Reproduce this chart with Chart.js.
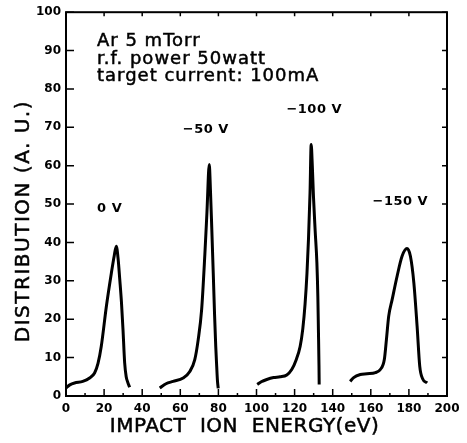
<!DOCTYPE html>
<html lang="en">
<head>
<meta charset="UTF-8">
<title>Impact ion energy distribution</title>
<script src="https://cdn.jsdelivr.net/npm/chart.js@4"></script>
<style>
  html, body { margin: 0; padding: 0; background: #fff; }
</style>
</head>
<body>
<canvas id="myChart" width="467" height="443"></canvas>
<script>
// curves, one per target bias
const energy0V = [0, 2, 4.5, 8.8, 12.4, 15, 16.8, 18.5, 21.2, 23.8, 25.3, 26.4, 27.4, 28.2, 29.1, 29.9, 30.8, 31.6, 32.4, 33.4];
const dist0V   = [2.1, 2.9, 3.4, 3.8, 4.7, 6, 8.5, 12.9, 23.4, 32, 36.5, 39, 35.5, 30.5, 24.5, 17.5, 8.6, 5, 3.6, 2.3];

const energy50V = [49.2, 52.5, 56.2, 61.5, 65, 67.6, 69.4, 71.2, 72.9, 74, 75.2, 75.8, 76.5, 77.3, 78, 78.6, 79.1, 79.5, 79.9];
const dist50V   = [2.1, 3.2, 3.8, 4.7, 6.4, 9.5, 14.7, 22.5, 37, 48, 60.3, 54, 44, 32, 21, 13, 7.8, 4, 2];

const energy100V = [100.4, 102.5, 105.4, 109, 112.4, 115.9, 118.5, 120.8, 122.9, 124.3, 125.5, 126.5, 127.3, 128.1, 128.7, 129.3, 129.9, 130.8, 131.7, 132.2, 132.5, 132.8, 132.9];
const dist100V   = [3, 3.7, 4.3, 4.8, 5, 5.5, 6.9, 9.4, 12.9, 17.5, 24, 32, 41, 53, 65.5, 60, 52, 43, 34.7, 26, 17.3, 8, 3];

const energy150V = [149.2, 151, 154.5, 158, 162.4, 165, 167.1, 168.2, 169.4, 171.2, 173.8, 176.4, 179, 180.8, 182.6, 184.3, 185.7, 187.2, 189.6];
const dist150V   = [3.8, 4.8, 5.6, 5.8, 6.1, 6.9, 9.5, 14.7, 20.8, 25.1, 31.2, 36.4, 38.4, 36.4, 29.5, 18.2, 7.7, 4.5, 3.4];

const peakLabels = ['0 V', '\u221250 V', '\u2212100 V', '\u2212150 V'];
const conditionLines = ['Ar 5 mTorr', 'r.f. power 50watt', 'target current: 100mA'];
const xTitle = 'IMPACT  ION  ENERGY(eV)';
const yTitle = 'DISTRIBUTION (A. U.)';

function toPoints(xs, ys) {
    return xs.map((x, i) => ({ x: x, y: ys[i] }));
}

function curve(xs, ys) {
    return {
        data: toPoints(xs, ys),
        borderColor: '#000',
        borderWidth: 3,
        pointRadius: 0,
        cubicInterpolationMode: 'monotone',
        fill: false
    };
}

// slightly heavier text, the scan looks bolder than DejaVu Book
function heavyText(ctx, txt, x, y) {
    ctx.fillText(txt, x, y);
    ctx.strokeText(txt, x, y);
}

// frame, inward ticks, titles and the text written inside the plot
const framePlugin = {
    id: 'frameAndText',
    afterDraw(chart) {
        const { ctx, chartArea: a, scales: { x, y } } = chart;
        ctx.save();
        ctx.strokeStyle = '#000';
        ctx.fillStyle = '#000';
        ctx.lineWidth = 2;
        ctx.strokeRect(a.left, a.top, a.right - a.left, a.bottom - a.top);

        ctx.lineWidth = 1.5;
        ctx.beginPath();
        x.ticks.forEach(t => {
            const px = x.getPixelForValue(t.value);
            ctx.moveTo(px, a.bottom); ctx.lineTo(px, a.bottom - 7);
            ctx.moveTo(px, a.top); ctx.lineTo(px, a.top + 4);
        });
        for (let v = 10; v < 200; v += 20) {
            const px = x.getPixelForValue(v);
            ctx.moveTo(px, a.bottom); ctx.lineTo(px, a.bottom - 3);
        }
        y.ticks.forEach(t => {
            const py = y.getPixelForValue(t.value);
            ctx.moveTo(a.left, py); ctx.lineTo(a.left + 8, py);
            ctx.moveTo(a.right, py); ctx.lineTo(a.right - 5, py);
        });
        ctx.stroke();

        ctx.lineWidth = 0.5;

        // axis titles
        ctx.font = '20px "DejaVu Sans"';
        ctx.letterSpacing = '0.5px';
        ctx.textAlign = 'center';
        ctx.textBaseline = 'middle';
        heavyText(ctx, xTitle, (a.left + a.right) / 2 - 12, a.bottom + 31);
        ctx.save();
        ctx.translate(a.left - 42, (a.top + a.bottom) / 2 + 17);
        ctx.rotate(-Math.PI / 2);
        ctx.letterSpacing = '1.5px';
        heavyText(ctx, yTitle, 0, 0);
        ctx.restore();

        // run conditions
        ctx.font = '18px "DejaVu Sans"';
        ctx.letterSpacing = '1px';
        ctx.textAlign = 'left';
        ctx.textBaseline = 'alphabetic';
        conditionLines.forEach((line, i) => {
            heavyText(ctx, line, a.left + 31, a.top + 34 + i * 17.5);
        });

        // bias labels over each peak
        const labelAt = [[22.9, 48.8], [73.4, 69.4], [130.3, 74.6], [175.5, 50.6]];
        ctx.font = 'bold 13px "DejaVu Sans"';
        ctx.letterSpacing = '0.5px';
        ctx.textAlign = 'center';
        ctx.textBaseline = 'middle';
        peakLabels.forEach((txt, i) => {
            ctx.fillText(txt, x.getPixelForValue(labelAt[i][0]), y.getPixelForValue(labelAt[i][1]));
        });
        ctx.restore();
    }
};

const tickFont = { family: 'DejaVu Sans', size: 12, weight: 'bold' };

new Chart(document.getElementById('myChart'), {
    type: 'line',
    data: {
        datasets: [
            curve(energy0V, dist0V),
            curve(energy50V, dist50V),
            curve(energy100V, dist100V),
            curve(energy150V, dist150V)
        ]
    },
    options: {
        responsive: false,
        animation: false,
        layout: { padding: { top: 12, right: 20, left: 0, bottom: 0 } },
        plugins: {
            legend: { display: false },
            tooltip: { enabled: false }
        },
        scales: {
            x: {
                type: 'linear',
                min: 0,
                max: 200,
                grid: { display: false, drawTicks: false },
                border: { display: false },
                ticks: { stepSize: 20, color: '#000', font: tickFont, padding: 6, maxRotation: 0 },
                afterFit: s => { s.height = 47; }
            },
            y: {
                min: 0,
                max: 100,
                grid: { display: false, drawTicks: false },
                border: { display: false },
                ticks: { stepSize: 10, color: '#000', font: tickFont, padding: 5 },
                afterFit: s => { s.width = 66; }
            }
        }
    },
    plugins: [framePlugin]
});
</script>
</body>
</html>
